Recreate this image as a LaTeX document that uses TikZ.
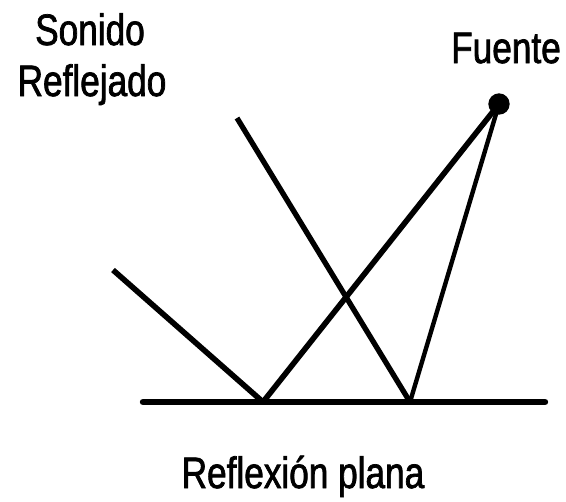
\documentclass[tikz,border=0pt]{standalone}
\usepackage{fontspec}
\setmainfont[FakeStretch=0.8, FakeBold=1.6, BoldFont={Liberation Sans}]{Liberation Sans}
\usetikzlibrary{positioning}

\begin{document}
\begin{tikzpicture}[x=0.75pt, y=-0.75pt, font=\fontsize{33}{38}\selectfont\bfseries]
  \useasboundingbox (0,0) rectangle (566,501);
  % points on the floor and the ends of the rays
  \coordinate (sueloI) at (143,402);
  \coordinate (sueloD) at (545,402);
  \coordinate (fuente) at (499,104);
  \coordinate (pA) at (263,402);
  \coordinate (pB) at (410,402);
  \coordinate (finA) at (113,270);
  \coordinate (finB) at (237,118);
  % floor
  \draw[line width=4.8pt, line cap=round] (sueloI) -- (sueloD);
  % incident and reflected rays
  \draw[line width=4.2pt] (fuente) -- (pA);
  \draw[line width=4.2pt] (pA) -- (finA);
  \draw[line width=3.3pt] (fuente) -- (pB);
  \draw[line width=4pt] (pB) -- (finB);
  \fill (fuente) circle[radius=8pt];
  % labels
  \node[anchor=base] (sonido) at (90,45) {Sonido};
  \node[anchor=base] (reflejado) at (92,96) {Reflejado};
  \node[anchor=base] (fuenteTxt) at (506,63) {Fuente};
  \node[anchor=base] (titulo) at (303,488) {Reflexión plana};
\end{tikzpicture}
\end{document}
